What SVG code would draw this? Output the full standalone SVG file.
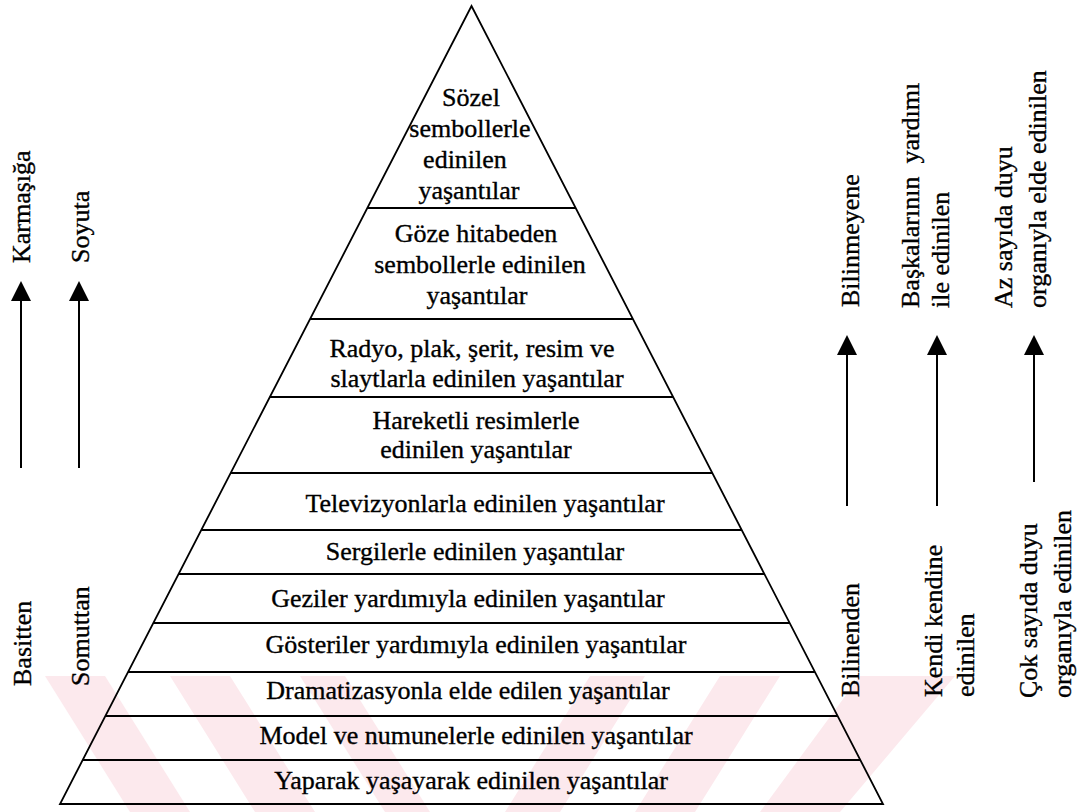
<svg xmlns="http://www.w3.org/2000/svg" width="1081" height="812" viewBox="0 0 1081 812">
<style>
.t{font-family:"Liberation Serif","Times New Roman",serif;font-size:26px;fill:#000;stroke:#000;stroke-width:0.35}
.m{text-anchor:middle}
.ln{stroke:#000;stroke-width:1.8;fill:none}
.ar{stroke:#000;stroke-width:2;fill:none}
.wm{fill:#fce9ed}
</style>
<defs>
<marker id="ah" markerWidth="20" markerHeight="20" refX="18" refY="10" orient="auto" markerUnits="userSpaceOnUse" viewBox="0 0 20 20">
<path d="M0,0 L20,10 L0,20 Z" fill="#000"/>
</marker>
</defs>
<rect width="1081" height="812" fill="#fff"/>
<g id="watermark">
<polygon class="wm" points="45,676 105,676 190,812 130,812"/>
<polygon class="wm" points="170,676 230,676 315,812 255,812"/>
<polygon class="wm" points="300,676 345,676 430,812 385,812"/>
<polygon class="wm" points="590,676 645,676 560,812 505,812"/>
<polygon class="wm" points="720,676 780,676 695,812 635,812"/>
<polygon class="wm" points="860,676 955,676 840,812 760,812"/>
</g>
<g id="pyramid">
<polygon class="ln" points="471.5,6 883,804 60,804"/>
<line class="ln" x1="367.3" y1="208" x2="575.7" y2="208"/>
<line class="ln" x1="310.1" y1="319" x2="632.9" y2="319"/>
<line class="ln" x1="269.9" y1="397" x2="673.1" y2="397"/>
<line class="ln" x1="230.7" y1="473" x2="712.3" y2="473"/>
<line class="ln" x1="201.3" y1="530" x2="741.7" y2="530"/>
<line class="ln" x1="178.6" y1="574" x2="764.4" y2="574"/>
<line class="ln" x1="153.3" y1="623" x2="789.7" y2="623"/>
<line class="ln" x1="128.1" y1="672" x2="814.9" y2="672"/>
<line class="ln" x1="105.4" y1="716" x2="837.6" y2="716"/>
<line class="ln" x1="82.7" y1="760" x2="860.3" y2="760"/>
</g>
<g id="level1"><text class="t m" x="471" y="106">Sözel</text><text class="t m" x="470" y="137">sembollerle</text><text class="t m" x="465" y="168">edinilen</text><text class="t m" x="469" y="199">yaşantılar</text></g>
<g id="level2"><text class="t m" x="476" y="242">Göze hitabeden</text><text class="t m" x="480" y="273">sembollerle edinilen</text><text class="t m" x="477" y="304">yaşantılar</text></g>
<g id="level3"><text class="t m" x="472" y="357">Radyo, plak, şerit, resim ve</text><text class="t m" x="477" y="387">slaytlarla edinilen yaşantılar</text></g>
<g id="level4"><text class="t m" x="476" y="429">Hareketli resimlerle</text><text class="t m" x="476" y="458">edinilen yaşantılar</text></g>
<g id="level5"><text class="t m" x="485" y="512">Televizyonlarla edinilen yaşantılar</text></g>
<g id="level6"><text class="t m" x="475" y="560">Sergilerle edinilen yaşantılar</text></g>
<g id="level7"><text class="t m" x="468" y="607">Geziler yardımıyla edinilen yaşantılar</text></g>
<g id="level8"><text class="t m" x="476" y="653">Gösteriler yardımıyla edinilen yaşantılar</text></g>
<g id="level9"><text class="t m" x="468" y="699">Dramatizasyonla elde edilen yaşantılar</text></g>
<g id="level10"><text class="t m" x="476" y="744">Model ve numunelerle edinilen yaşantılar</text></g>
<g id="level11"><text class="t m" x="471" y="789">Yaparak yaşayarak edinilen yaşantılar</text></g>
<g id="connectors">
<line class="ar" x1="21" y1="468" x2="21" y2="283" marker-end="url(#ah)"/>
<line class="ar" x1="79" y1="468" x2="79" y2="283" marker-end="url(#ah)"/>
<line class="ar" x1="847" y1="506" x2="847" y2="337" marker-end="url(#ah)"/>
<line class="ar" x1="937" y1="506" x2="937" y2="337" marker-end="url(#ah)"/>
<line class="ar" x1="1034" y1="482" x2="1034" y2="337" marker-end="url(#ah)"/>
</g>
<g id="left-labels">
<text class="t" transform="translate(30,263) rotate(-90)">Karmaşığa</text>
<text class="t" transform="translate(89,263) rotate(-90)">Soyuta</text>
<text class="t" transform="translate(31,686) rotate(-90)">Basitten</text>
<text class="t" transform="translate(89,686) rotate(-90)">Somuttan</text>
</g>
<g id="right-labels">
<text class="t" transform="translate(859,307) rotate(-90)">Bilinmeyene</text>
<text class="t" transform="translate(859,697) rotate(-90)">Bilinenden</text>
<text class="t" transform="translate(919,308) rotate(-90)" xml:space="preserve">Başkalarının  yardımı</text>
<text class="t" transform="translate(949,308) rotate(-90)">ile edinilen</text>
<text class="t" transform="translate(942,697) rotate(-90)">Kendi kendine</text>
<text class="t" transform="translate(974,697) rotate(-90)">edinilen</text>
<text class="t" transform="translate(1012,308) rotate(-90)">Az sayıda duyu</text>
<text class="t" transform="translate(1046,308) rotate(-90)">organıyla elde edinilen</text>
<text class="t" transform="translate(1037,698) rotate(-90)">Çok sayıda duyu</text>
<text class="t" transform="translate(1071,698) rotate(-90)">organıyla edinilen</text>
</g>
</svg>
